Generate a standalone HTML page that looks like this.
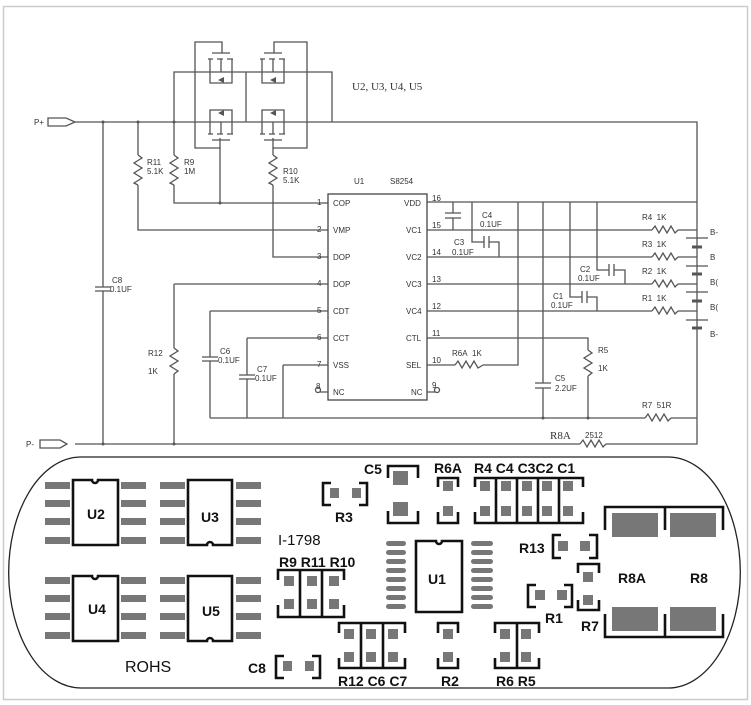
<!DOCTYPE html>
<html><head><meta charset="utf-8"><style>
html,body{margin:0;padding:0;background:#fff}
svg{display:block}
.s{font-family:"Liberation Sans",sans-serif;font-size:8px;fill:#333}
.p{font-family:"Liberation Sans",sans-serif;font-size:14px;font-weight:bold;fill:#111}
</style></head><body>
<svg width="751" height="705" viewBox="0 0 751 705" xmlns="http://www.w3.org/2000/svg">
<rect x="0" y="0" width="751" height="705" fill="#fff"/>
<rect x="3.5" y="6.5" width="744" height="693" fill="none" stroke="#ccc" stroke-width="1.5"/>
<g stroke="#555" stroke-width="1.3" fill="none">
<!-- P+ / P- -->
<path d="M48,118 H66 L75,122 L66,126 H48 Z"/>
<path d="M40,440 H60 L67,444 L60,448 H40 Z"/>
<path d="M75,122 H697 V444 H75"/>
<!-- mosfet frame -->
<path d="M222,53 V42 H195 V148 H220 V138"/>
<path d="M274,53 V42 H307 V148 H273 V138"/>
<path d="M174,122 V72 H332 V122"/>
<path d="M246,72 V122"/>
<path d="M220,148 V203"/>
<!-- mosfet glyphs -->
<g>
<path d="M212,53 H230 M208,59 H213 M217,59 H223 M227,59 H233 M210,59 V83 H232 V59 M221,59 V72"/>
<path d="M264,53 H282 M260,59 H265 M269,59 H275 M279,59 H285 M262,59 V83 H284 V59 M273,59 V72"/>
<path d="M212,140 H230 M208,134 H213 M217,134 H223 M227,134 H233 M210,134 V110 H232 V134 M221,134 V122"/>
<path d="M264,140 H282 M260,134 H265 M269,134 H275 M279,134 H285 M262,134 V110 H284 V134 M273,134 V122"/>
</g>
<!-- R11, R9, R10 -->
<path d="M138,122 V155"/><polyline points="138,155 142,158 134,163 142,168 134,173 142,178 134,183 138,185"/><path d="M138,185 V230 H328"/>
<path d="M174,122 V155"/><polyline points="174,155 178,158 170,163 178,168 170,173 178,178 170,183 174,185"/><path d="M174,185 V203 H328"/>
<path d="M273,148 V155"/><polyline points="273,155 277,158 269,163 277,168 269,173 277,178 269,183 273,185"/><path d="M273,185 V257 H328"/>
<!-- C8 -->
<path d="M103,122 V287 M103,291 V444 M95,287 H111 M95,291 H111"/>
<!-- U1 -->
<rect x="328" y="194" width="99" height="206" stroke="#444"/>
<path d="M174,284 H328 M174,284 V348"/><polyline points="174,348 178,351 170,356 178,361 170,366 178,371 174,374"/><path d="M174,374 V444"/>
<path d="M210,311 H328 M210,311 V357 M210,361 V418 M202,357 H218 M202,361 H218"/>
<path d="M247,338 H328 M247,338 V375 M247,379 V418 M239,375 H255 M239,379 H255"/>
<path d="M283,365 H328 M283,365 V418 M210,418 H645"/>
<polyline points="645,418 648,414 652,421 656,414 660,421 664,414 668,421 671,418"/><path d="M671,418 H697"/>
<path d="M320,392 H328 M427,392 H435"/>
<circle cx="318" cy="390" r="2.5"/><circle cx="437" cy="390" r="2.5"/>
<!-- right side -->
<path d="M427,202 H697"/>
<path d="M453,202 V213 M453,218 V230 M445,213 H461 M445,218 H461"/>
<path d="M427,230 H652"/><polyline points="652,230 655,226 659,233 663,226 667,233 671,226 675,233 678,230"/><path d="M678,230 H697"/>
<path d="M427,257 H652"/><polyline points="652,257 655,253 659,260 663,253 667,260 671,253 675,260 678,257"/><path d="M678,257 H697"/>
<path d="M427,284 H652"/><polyline points="652,284 655,280 659,287 663,280 667,287 671,280 675,287 678,284"/><path d="M678,284 H697"/>
<path d="M427,311 H652"/><polyline points="652,311 655,307 659,314 663,307 667,314 671,307 675,314 678,311"/><path d="M678,311 H697"/>
<path d="M472,202 V242 H484 M489,242 H499 V257 M484,236 V248 M489,236 V248"/>
<path d="M597,202 V270 H609 M614,270 H625 V284 M609,264 V276 M614,264 V276"/>
<path d="M570,202 V297 H582 M587,297 H597 V311 M582,291 V303 M587,291 V303"/>
<path d="M518,202 V365 H483"/><path d="M427,365 H455"/><polyline points="455,365 458,361 462,368 466,361 470,368 474,361 478,368 483,365"/>
<path d="M543,202 V383 M543,388 V418 M535,383 H551 M535,388 H551"/>
<path d="M427,338 H588 V350"/><polyline points="588,350 592,353 584,358 592,363 584,368 592,373 588,376"/><path d="M588,376 V418"/>
<!-- R8A on P- -->
<path d="M580,444 H606" stroke="#fff" stroke-width="3"/>
<polyline points="580,444 583,440 587,447 591,440 595,447 599,440 603,447 606,444"/>
<!-- batteries -->
<path d="M686,238 H708 M686,266 H708 M686,292 H708 M686,320 H708"/>
<path d="M692,247 H702 M692,274 H702 M692,301 H702 M692,328 H702" stroke-width="3"/>
</g>
<g fill="#555">
<circle cx="103" cy="122" r="1.5"/><circle cx="138" cy="122" r="1.5"/><circle cx="174" cy="122" r="1.5"/><circle cx="220" cy="203" r="1.5"/>
<circle cx="103" cy="444" r="1.5"/><circle cx="174" cy="444" r="1.5"/><circle cx="543" cy="418" r="1.5"/><circle cx="588" cy="418" r="1.5"/>
<path d="M218,80 L224,77 L224,83 Z M270,80 L276,77 L276,83 Z M218,113 L224,110 L224,116 Z M270,113 L276,110 L276,116 Z"/>
</g>
<g class="s">
<text x="34" y="125">P+</text><text x="26" y="447">P-</text>
<text x="147" y="165">R11</text><text x="147" y="174">5.1K</text>
<text x="184" y="165">R9</text><text x="184" y="174">1M</text>
<text x="283" y="174">R10</text><text x="283" y="183">5.1K</text>
<text x="354" y="184">U1</text><text x="390" y="184">S8254</text>
<text x="352" y="90" style="font-family:'Liberation Serif',serif;font-size:11px">U2, U3, U4, U5</text>
<text x="112" y="283">C8</text><text x="110" y="292">0.1UF</text>
<text x="148" y="356">R12</text><text x="148" y="374">1K</text>
<text x="220" y="354">C6</text><text x="218" y="363">0.1UF</text>
<text x="257" y="372">C7</text><text x="255" y="381">0.1UF</text>
<text x="317" y="205">1</text><text x="317" y="232">2</text><text x="317" y="259">3</text><text x="317" y="286">4</text><text x="317" y="313">5</text><text x="317" y="340">6</text><text x="317" y="367">7</text><text x="316" y="389">8</text>
<text x="333" y="206">COP</text><text x="333" y="233">VMP</text><text x="333" y="260">DOP</text><text x="333" y="287">DOP</text><text x="333" y="314">CDT</text><text x="333" y="341">CCT</text><text x="333" y="368">VSS</text><text x="333" y="395">NC</text>
<text x="404" y="206">VDD</text><text x="406" y="233">VC1</text><text x="406" y="260">VC2</text><text x="406" y="287">VC3</text><text x="406" y="314">VC4</text><text x="406" y="341">CTL</text><text x="406" y="368">SEL</text><text x="411" y="395">NC</text>
<text x="432" y="201">16</text><text x="432" y="228">15</text><text x="432" y="255">14</text><text x="432" y="282">13</text><text x="432" y="309">12</text><text x="432" y="336">11</text><text x="432" y="363">10</text><text x="432" y="388">9</text>
<text x="482" y="218">C4</text><text x="480" y="227">0.1UF</text>
<text x="454" y="245">C3</text><text x="452" y="255">0.1UF</text>
<text x="580" y="272">C2</text><text x="578" y="281">0.1UF</text>
<text x="553" y="299">C1</text><text x="551" y="308">0.1UF</text>
<text x="452" y="356">R6A&#160;&#160;1K</text>
<text x="555" y="381">C5</text><text x="555" y="391">2.2UF</text>
<text x="598" y="353">R5</text><text x="598" y="371">1K</text>
<text x="642" y="220">R4&#160;&#160;1K</text><text x="642" y="247">R3&#160;&#160;1K</text><text x="642" y="274">R2&#160;&#160;1K</text><text x="642" y="301">R1&#160;&#160;1K</text>
<text x="642" y="408">R7&#160;&#160;51R</text>
<text x="585" y="438">2512</text>
<text x="710" y="235">B-</text><text x="710" y="260">B</text><text x="710" y="285">B(</text><text x="710" y="310">B(</text><text x="710" y="337">B-</text>
</g>
<text x="550" y="439" style="font-family:'Liberation Serif',serif;font-size:11px;fill:#333">R8A</text>

<!-- PCB -->
<path d="M80,457 H668 A72,115 0 0 1 668,688 H82 A72,115 0 0 1 80,457 Z" fill="none" stroke="#222" stroke-width="1.3"/>
<g fill="#777">
<!-- U2 pads -->
<rect x="45" y="482" width="25" height="7"/><rect x="45" y="500" width="25" height="7"/><rect x="45" y="518" width="25" height="7"/><rect x="45" y="537" width="25" height="7"/>
<rect x="121" y="482" width="25" height="7"/><rect x="121" y="500" width="25" height="7"/><rect x="121" y="518" width="25" height="7"/><rect x="121" y="537" width="25" height="7"/>
<rect x="160" y="482" width="25" height="7"/><rect x="160" y="500" width="25" height="7"/><rect x="160" y="518" width="25" height="7"/><rect x="160" y="537" width="25" height="7"/>
<rect x="236" y="482" width="25" height="7"/><rect x="236" y="500" width="25" height="7"/><rect x="236" y="518" width="25" height="7"/><rect x="236" y="537" width="25" height="7"/>
<rect x="45" y="577" width="25" height="7"/><rect x="45" y="595" width="25" height="7"/><rect x="45" y="613" width="25" height="7"/><rect x="45" y="632" width="25" height="7"/>
<rect x="121" y="577" width="25" height="7"/><rect x="121" y="595" width="25" height="7"/><rect x="121" y="613" width="25" height="7"/><rect x="121" y="632" width="25" height="7"/>
<rect x="160" y="577" width="25" height="7"/><rect x="160" y="595" width="25" height="7"/><rect x="160" y="613" width="25" height="7"/><rect x="160" y="632" width="25" height="7"/>
<rect x="236" y="577" width="25" height="7"/><rect x="236" y="595" width="25" height="7"/><rect x="236" y="613" width="25" height="7"/><rect x="236" y="632" width="25" height="7"/>
<!-- U1 pads -->
<g>
<rect x="386" y="541" width="20" height="5" rx="2.5"/><rect x="386" y="550" width="20" height="5" rx="2.5"/><rect x="386" y="559" width="20" height="5" rx="2.5"/><rect x="386" y="568" width="20" height="5" rx="2.5"/><rect x="386" y="577" width="20" height="5" rx="2.5"/><rect x="386" y="586" width="20" height="5" rx="2.5"/><rect x="386" y="595" width="20" height="5" rx="2.5"/><rect x="386" y="604" width="20" height="5" rx="2.5"/>
<rect x="471" y="541" width="22" height="5" rx="2.5"/><rect x="471" y="550" width="22" height="5" rx="2.5"/><rect x="471" y="559" width="22" height="5" rx="2.5"/><rect x="471" y="568" width="22" height="5" rx="2.5"/><rect x="471" y="577" width="22" height="5" rx="2.5"/><rect x="471" y="586" width="22" height="5" rx="2.5"/><rect x="471" y="595" width="22" height="5" rx="2.5"/><rect x="471" y="604" width="22" height="5" rx="2.5"/>
</g>
<!-- small pads -->
<rect x="330" y="488" width="9" height="10"/><rect x="352" y="488" width="9" height="10"/>
<rect x="393" y="471" width="15" height="14"/><rect x="393" y="502" width="15" height="14"/>
<rect x="443" y="481" width="10" height="10"/><rect x="443" y="506" width="10" height="10"/>
<rect x="480" y="481" width="10" height="10"/><rect x="501" y="481" width="10" height="10"/><rect x="522" y="481" width="10" height="10"/><rect x="542" y="481" width="10" height="10"/><rect x="563" y="481" width="10" height="10"/>
<rect x="480" y="506" width="10" height="10"/><rect x="501" y="506" width="10" height="10"/><rect x="522" y="506" width="10" height="10"/><rect x="542" y="506" width="10" height="10"/><rect x="563" y="506" width="10" height="10"/>
<rect x="558" y="541" width="10" height="10"/><rect x="580" y="541" width="10" height="10"/>
<rect x="535" y="590" width="10" height="10"/><rect x="557" y="590" width="10" height="10"/>
<rect x="583" y="572" width="10" height="10"/><rect x="583" y="595" width="10" height="10"/>
<rect x="612" y="513" width="46" height="24"/><rect x="670" y="513" width="46" height="24"/>
<rect x="612" y="607" width="46" height="24"/><rect x="670" y="607" width="46" height="24"/>
<rect x="284" y="576" width="10" height="10"/><rect x="307" y="576" width="10" height="10"/><rect x="329" y="576" width="10" height="10"/>
<rect x="284" y="599" width="10" height="10"/><rect x="307" y="599" width="10" height="10"/><rect x="329" y="599" width="10" height="10"/>
<rect x="344" y="629" width="10" height="10"/><rect x="366" y="629" width="10" height="10"/><rect x="388" y="629" width="10" height="10"/>
<rect x="344" y="652" width="10" height="10"/><rect x="366" y="652" width="10" height="10"/><rect x="388" y="652" width="10" height="10"/>
<rect x="443" y="629" width="10" height="10"/><rect x="443" y="652" width="10" height="10"/>
<rect x="500" y="629" width="10" height="10"/><rect x="521" y="629" width="10" height="10"/>
<rect x="500" y="652" width="10" height="10"/><rect x="521" y="652" width="10" height="10"/>
<rect x="283" y="661" width="9" height="10"/><rect x="305" y="661" width="9" height="10"/>
</g>
<g fill="none" stroke="#111" stroke-width="2.6">
<!-- IC bodies -->
<path d="M73,480 H92 A3,3 0 0 0 98,480 H118 V545 H73 Z"/>
<path d="M188,480 H232 V545 H213 A3,3 0 0 0 207,545 H188 Z"/>
<path d="M73,576 H92 A3,3 0 0 0 98,576 H118 V641 H73 Z"/>
<path d="M188,576 H232 V641 H213 A3,3 0 0 0 207,641 H188 Z"/>
<path d="M416,541 H436 A3,3 0 0 0 442,541 H462 V612 H416 Z"/>
<!-- brackets -->
<path d="M331,483 H323 V505 H331 M359,483 H367 V505 H359"/>
<path d="M388,478 V466 H418 V478 M388,511 V523 H418 V511"/>
<path d="M438,487 V478 H458 V487 M438,512 V523 H458 V512"/>
<path d="M475,487 V478 H583 V487 M475,512 V523 H583 V512 M496,478 V523 M517,478 V523 M538,478 V523 M559,478 V523"/>
<path d="M561,535 H553 V558 H561 M589,535 H597 V558 H589"/>
<path d="M536,585 H528 V607 H536 M564,585 H572 V607 H564"/>
<path d="M578,573 V564 H599 V573 M578,600 V610 H599 V600"/>
<path d="M605,530 V507 H723 V530 M605,614 V637 H723 V614 M665,507 V530 M665,614 V637"/>
<path d="M278,580 V570 H344 V580 M278,605 V617 H344 V605 M300,570 V617 M322,570 V617"/>
<path d="M339,633 V623 H405 V633 M339,658 V668 H405 V658 M361,623 V668 M383,623 V668"/>
<path d="M438,633 V623 H458 V633 M438,658 V668 H458 V658"/>
<path d="M495,633 V623 H539 V633 M495,658 V668 H539 V658 M517,623 V668"/>
<path d="M284,656 H276 V678 H284 M312,656 H320 V678 H312"/>
</g>
<g class="p">
<text x="87" y="519">U2</text><text x="201" y="522">U3</text>
<text x="88" y="614">U4</text><text x="202" y="616">U5</text>
<text x="125" y="672" style="font-weight:normal;font-size:16px">ROHS</text>
<text x="335" y="522">R3</text>
<text x="364" y="474">C5</text>
<text x="434" y="473">R6A</text>
<text x="474" y="473">R4 C4 C3C2 C1</text>
<text x="278" y="545" style="font-weight:normal;font-size:15px">I-1798</text>
<text x="279" y="567">R9 R11 R10</text>
<text x="428" y="584">U1</text>
<text x="519" y="553">R13</text>
<text x="545" y="623">R1</text>
<text x="581" y="631">R7</text>
<text x="618" y="583">R8A</text><text x="690" y="583">R8</text>
<text x="248" y="673">C8</text>
<text x="338" y="686">R12 C6 C7</text>
<text x="441" y="686">R2</text>
<text x="496" y="686">R6 R5</text>
</g>
</svg>
</body></html>
